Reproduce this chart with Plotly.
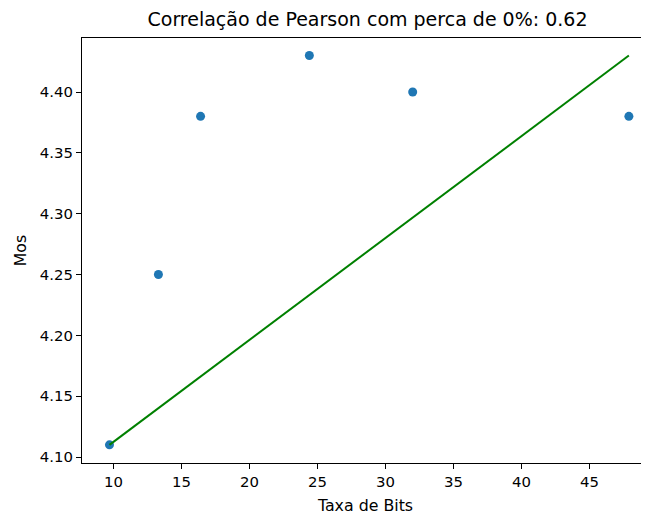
import plotly.graph_objects as go

# Data
taxa_bits = [9.7, 13.3, 16.4, 24.4, 32.0, 47.9]
mos = [4.11, 4.25, 4.38, 4.43, 4.40, 4.38]

# green line endpoints (min -> max)
line_x = [9.7, 47.9]
line_y = [4.11, 4.43]

y_ticks = [4.10, 4.15, 4.20, 4.25, 4.30, 4.35, 4.40]
x_ticks = [10, 15, 20, 25, 30, 35, 40, 45]

title_text = "Correlação de Pearson com perca de 0%: 0.62"

font = "DejaVu Sans"

# page body has an 8px default margin; compensate so the plot lands where the reference has it
W, H = 641, 512

fig = go.Figure()
fig.add_trace(go.Scatter(
    x=taxa_bits, y=mos, mode="markers",
    marker=dict(color="#1f77b4", size=9),
    showlegend=False,
))
fig.add_trace(go.Scatter(
    x=line_x, y=line_y, mode="lines",
    line=dict(color="#008000", width=2),
    showlegend=False,
))

fig.update_layout(
    width=W, height=H,
    margin=dict(l=74, r=0, t=30, b=57),
    paper_bgcolor="white", plot_bgcolor="white",
    font=dict(family=font, size=14.9, color="#000000"),
    title=dict(text=title_text, x=359.5 / W, xref="container", xanchor="center",
               y=1 - 11 / H, yref="container", yanchor="middle",
               font=dict(family=font, size=19, color="#000000")),
    xaxis=dict(
        range=[7.68, 49.38], tickvals=x_ticks, automargin=False,
        showgrid=False, zeroline=False,
        showline=True, linecolor="black", linewidth=1.1, mirror=True,
        ticks="outside", ticklen=5, tickcolor="black", tickwidth=1.1,
        title=dict(text="Taxa de Bits", standoff=10, font=dict(size=15.8)),
    ),
    yaxis=dict(
        range=[4.0951, 4.4444], tickvals=y_ticks, tickformat=".2f", automargin=False,
        showgrid=False, zeroline=False,
        showline=True, linecolor="black", linewidth=1.1, mirror=False,
        ticks="outside", ticklen=5, tickcolor="black", tickwidth=1.1,
        title=dict(text="Mos", standoff=9, font=dict(size=15.8)),
    ),
)

fig.write_html("out.html")
